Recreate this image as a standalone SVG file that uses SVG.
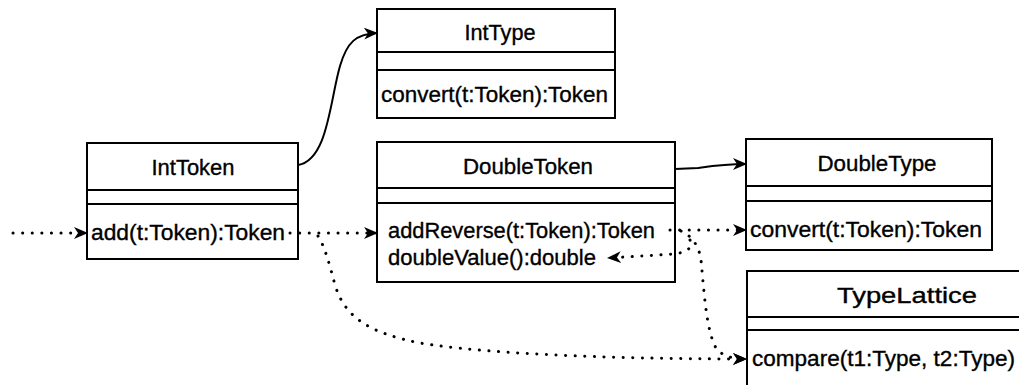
<svg xmlns="http://www.w3.org/2000/svg" width="1019" height="385" viewBox="0 0 1019 385">
<style>
.box{fill:#fff;stroke:#000;stroke-width:2}
.sep{stroke:#000;stroke-width:2}
text{font-family:"Liberation Sans",Arial,sans-serif;font-size:22px;fill:#000;stroke:#000;stroke-width:0.35}
.name{text-anchor:middle}
.solid{fill:none;stroke:#000;stroke-width:2}
.dot{fill:none;stroke:#000;stroke-width:3;stroke-linecap:round;stroke-dasharray:0.1 9.5}
</style>
<defs>
<marker id="arr" viewBox="0 0 14 12" refX="13" refY="6" markerWidth="14" markerHeight="12" markerUnits="userSpaceOnUse" orient="auto">
<path d="M0,0 L14,6 L0,12 L4,6 z" fill="#000"/>
</marker>
</defs>
<rect width="1019" height="385" fill="#fff"/>
<g id="IntToken">
<rect class="box" x="87" y="143" width="211" height="116"/>
<line class="sep" x1="87" y1="190" x2="298" y2="190"/>
<line class="sep" x1="87" y1="204" x2="298" y2="204"/>
<text class="name" x="193" y="175" textLength="83" lengthAdjust="spacingAndGlyphs">IntToken</text>
<text x="91" y="240" textLength="194" lengthAdjust="spacingAndGlyphs">add(t:Token):Token</text>
</g>
<g id="IntType">
<rect class="box" x="377" y="9" width="238" height="109"/>
<line class="sep" x1="377" y1="52" x2="615" y2="52"/>
<line class="sep" x1="377" y1="70" x2="615" y2="70"/>
<text class="name" x="500" y="40" textLength="71" lengthAdjust="spacingAndGlyphs">IntType</text>
<text x="381" y="102" textLength="227" lengthAdjust="spacingAndGlyphs">convert(t:Token):Token</text>
</g>
<g id="DoubleToken">
<rect class="box" x="377" y="142" width="298" height="140"/>
<line class="sep" x1="377" y1="188" x2="675" y2="188"/>
<line class="sep" x1="377" y1="203" x2="675" y2="203"/>
<text class="name" x="528" y="174" textLength="130" lengthAdjust="spacingAndGlyphs">DoubleToken</text>
<text x="388" y="238" textLength="267" lengthAdjust="spacingAndGlyphs">addReverse(t:Token):Token</text>
<text x="388" y="265" textLength="208" lengthAdjust="spacingAndGlyphs">doubleValue():double</text>
</g>
<g id="DoubleType">
<rect class="box" x="746" y="139" width="246" height="111"/>
<line class="sep" x1="746" y1="186" x2="992" y2="186"/>
<line class="sep" x1="746" y1="201" x2="992" y2="201"/>
<text class="name" x="877" y="171" textLength="119" lengthAdjust="spacingAndGlyphs">DoubleType</text>
<text x="750" y="237" textLength="232" lengthAdjust="spacingAndGlyphs">convert(t:Token):Token</text>
</g>
<g id="TypeLattice">
<rect class="box" x="747" y="271" width="320" height="130"/>
<line class="sep" x1="747" y1="317" x2="1067" y2="317"/>
<line class="sep" x1="747" y1="330" x2="1067" y2="330"/>
<text class="name" x="907" y="303" textLength="140" lengthAdjust="spacingAndGlyphs">TypeLattice</text>
<text x="752" y="366" textLength="263" lengthAdjust="spacingAndGlyphs">compare(t1:Type, t2:Type)</text>
</g>
<g id="connectors">
<path class="solid" d="M298 165 C328 160 330 100 340 66 C347 42 356 34 377 33" marker-end="url(#arr)"/>
<path class="solid" d="M675 169 L698 168 C712 166 725 164 746 164" marker-end="url(#arr)"/>
<path class="dot" d="M13 233 L87 233" marker-end="url(#arr)"/>
<path class="dot" d="M290 233 L377 233" marker-end="url(#arr)"/>
<path class="dot" d="M318 236 C324 245 329 262 335 285 C345 318 370 333 420 343 C480 353 600 359 746 359" marker-end="url(#arr)"/>
<path class="dot" d="M670 230 L746 230" marker-end="url(#arr)"/>
<path class="dot" d="M681 231 C692 236 699 246 701 260 C704 290 706 330 716 348 C722 356 732 359 746 359" marker-end="url(#arr)"/>
<path class="dot" d="M690 240 C694 248 686 252 675 254 L608 258" marker-end="url(#arr)"/>
</g>
</svg>
